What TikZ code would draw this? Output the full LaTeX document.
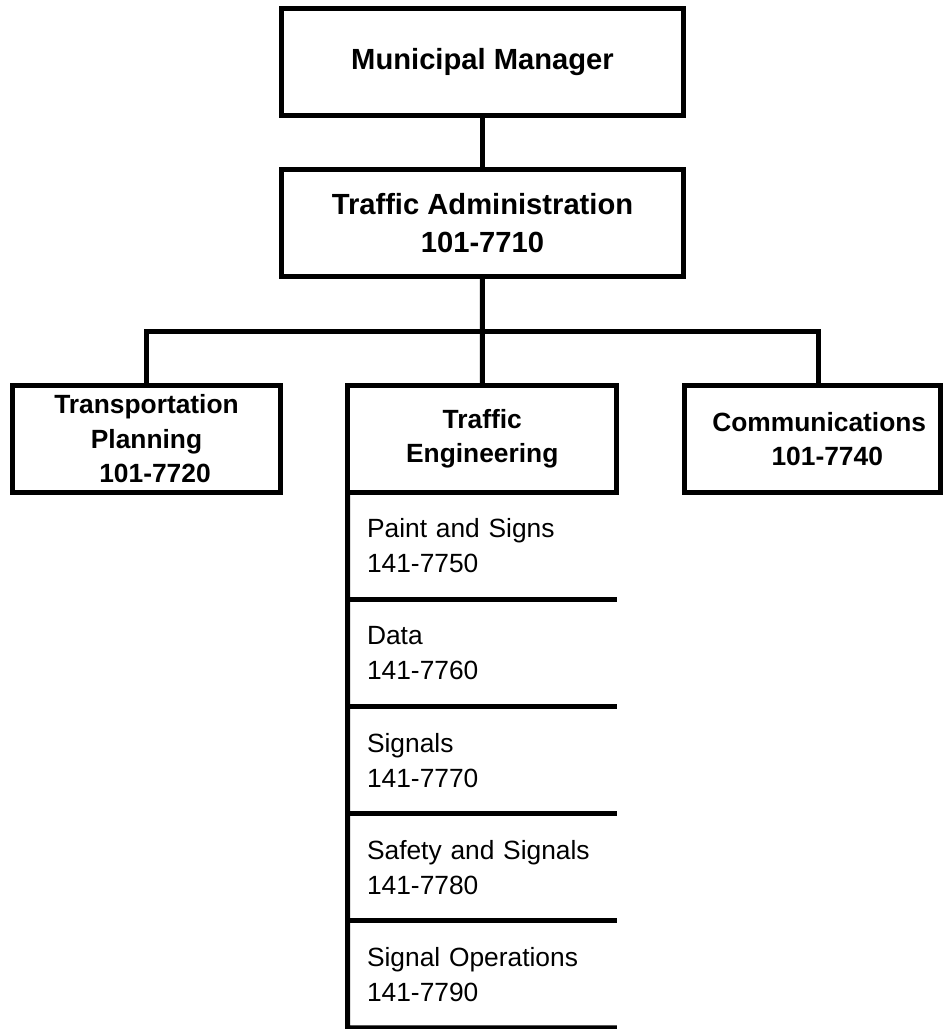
\documentclass[tikz,border=0pt]{standalone}
\usepackage{fontspec}
\setmainfont{Liberation Sans}
\usetikzlibrary{positioning}

\begin{document}
\begin{tikzpicture}[x=0.02cm, y=-0.02cm,
        box/.style={draw, line width=0.1cm, outer sep=0pt, inner sep=0pt,
                    align=center, minimum height=2.14cm},
        topbox/.style={box, minimum width=8.06cm,
                       font=\fontsize{16.6}{21.6}\selectfont\bfseries},
        unit/.style={box, font=\fontsize{15}{19.6}\selectfont\bfseries},
        sub/.style={outer sep=0pt, inner xsep=0.39cm, inner ysep=0pt,
                    text width=4.61cm, minimum height=2.142cm, align=left,
                    font=\fontsize{15}{19.9}\selectfont},
        link/.style={line width=0.1cm}
      ]
      \useasboundingbox (0,0) rectangle (943,1029);

      % Leitung
      \node[topbox] (mm) at (482.5, 62.25) {Municipal Manager};
      \node[topbox] (ta) at (482.5, 223)   {Traffic Administration\\101-7710};

      % Abteilungen (feste Positionen)
      \node[unit, minimum width=5.38cm] (tp) at (146.5, 439)
            {Transportation\\Planning\\\hspace*{0.34cm}101-7720};
      \node[unit, minimum width=5.39cm] (eng) at (482.25, 439)
            {Traffic\\Engineering};
      \node[unit, minimum width=5.13cm] (comm) at (812.25, 439)
            {\hspace*{0.28cm}Communications\\\hspace*{0.6cm}101-7740};

      % Unterabteilungen
      \node[sub, below=0pt of eng] (s1) {Paint and Signs\\141-7750};
      \node[sub, below=0pt of s1]  (s2) {Data\\141-7760};
      \node[sub, below=0pt of s2]  (s3) {Signals\\141-7770};
      \node[sub, below=0pt of s3]  (s4) {Safety and Signals\\141-7780};
      \node[sub, below=0pt of s4]  (s5) {Signal Operations\\141-7790};

      % Linien
      \coordinate (bus) at (482.5, 331);
      \draw[link] (mm) -- (ta);
      \draw[link] (ta) -- (eng);
      \draw[link] (tp.north) |- (bus) -| ([xshift=0.13cm]comm.north);
      \draw[link] (eng.south west) -- (s5.south west) -- (s5.south east);
      \foreach \n in {s1, s2, s3, s4} {
        \draw[link] (\n.south west) -- (\n.south east);
      }
    \end{tikzpicture}
\end{document}
